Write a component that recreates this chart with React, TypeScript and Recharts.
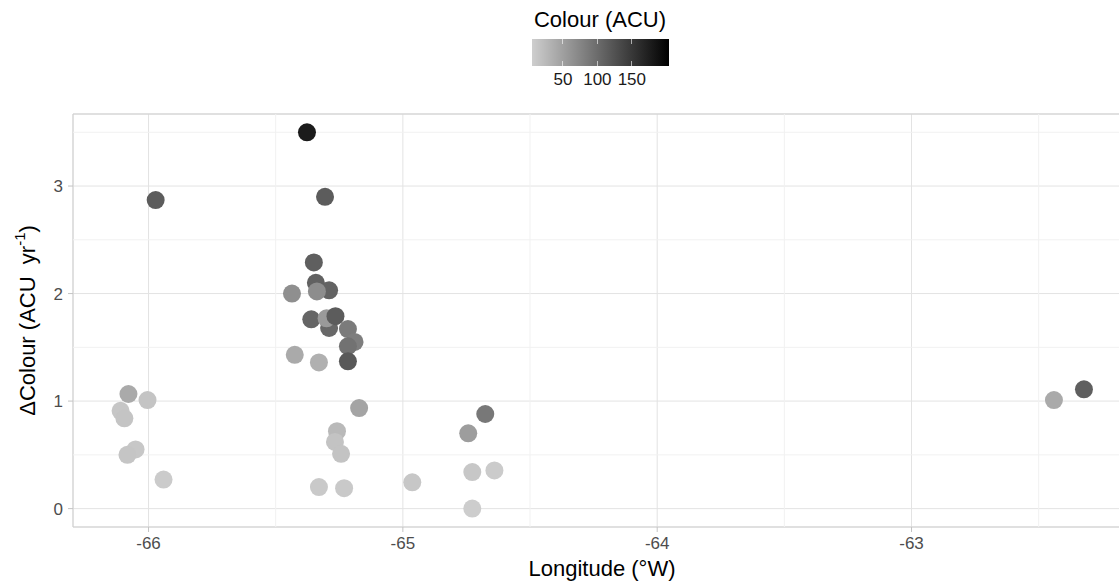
import React from "react";
import {
  ScatterChart,
  Scatter,
  XAxis,
  YAxis,
  CartesianGrid,
  ReferenceLine,
  ReferenceArea,
  Label,
} from "recharts";

// longitude (°W), rate of colour change (ACU/yr), colour (ACU)
const longitude = [
  -66.079, -66.004, -66.11, -66.095, -66.051, -66.083, -65.941, -65.972,
  -65.377, -65.306, -65.35, -65.342, -65.29, -65.338, -65.436, -65.36,
  -65.29, -65.3, -65.265, -65.216, -65.19, -65.216, -65.216, -65.425,
  -65.33, -65.172, -65.259, -65.267, -65.243, -65.33, -65.231, -64.963,
  -64.743, -64.676, -64.727, -64.64, -64.727, -62.44, -62.322,
];
const deltaColour = [
  1.066, 1.01, 0.91, 0.84, 0.55, 0.5, 0.27, 2.87,
  3.5, 2.9, 2.29, 2.1, 2.03, 2.02, 2.0, 1.76,
  1.68, 1.77, 1.79, 1.67, 1.55, 1.51, 1.37, 1.43,
  1.36, 0.935, 0.72, 0.62, 0.51, 0.2, 0.19, 0.245,
  0.7, 0.88, 0.34, 0.355, 0.0, 1.01, 1.11,
];
const colourAcu = [
  40, 15, 13, 15, 12, 14, 8, 115,
  178, 115, 112, 110, 108, 68, 66, 106,
  104, 55, 115, 85, 82, 94, 118, 40,
  34, 46, 25, 16, 16, 10, 10, 12,
  52, 88, 12, 8, 6, 40, 112,
];

const xTicks = [-66, -65, -64, -63];
const yTicks = [0, 1, 2, 3];
const xMinor = [-65.5, -64.5, -63.5, -62.5];
const yMinor = [0.5, 1.5, 2.5, 3.5];
const legendTicks = [50, 100, 150];

const X_DOMAIN: [number, number] = [-66.297, -62.137];
const Y_DOMAIN: [number, number] = [-0.171, 3.67];
const COL_MIN = 5;
const COL_MAX = 204;

const FONT = '"Liberation Sans", Arial, sans-serif';

const data = longitude.map((lon, i) => ({
  lon,
  dcol: deltaColour[i],
  colour: colourAcu[i],
}));

function greyFor(v: number) {
  const t = Math.min(1, Math.max(0, (v - COL_MIN) / (COL_MAX - COL_MIN)));
  const g = Math.round(206 * (1 - t));
  return `rgb(${g},${g},${g})`;
}

const Dot = (props: any) => {
  const { cx, cy, payload } = props;
  if (cx == null || cy == null) return null;
  return <circle cx={cx} cy={cy} r={9} fill={greyFor(payload.colour)} />;
};

const YTitle = (props: any) => {
  const vb = props.viewBox || { x: 0, y: 0, width: 0, height: 0 };
  const cx = vb.x + 27;
  const cy = vb.y + vb.height / 2;
  return (
    <text
      x={cx}
      y={cy}
      transform={`rotate(-90, ${cx}, ${cy})`}
      textAnchor="middle"
      dominantBaseline="central"
      fontSize={22}
      fontFamily={FONT}
      fill="#000"
    >
      ΔColour (ACU{"\u00a0\u00a0"}yr
      <tspan fontSize={15} dy={-8}>
        -1
      </tspan>
      <tspan dy={8}>)</tspan>
    </text>
  );
};

function ColourLegend() {
  const barLeft = 532;
  const barWidth = 137;
  const pos = (v: number) => ((v - COL_MIN) / (COL_MAX - COL_MIN)) * barWidth;
  return (
    <div
      style={{
        position: "absolute",
        left: 0,
        top: 0,
        width: 1119,
        height: 100,
        fontFamily: FONT,
        pointerEvents: "none",
      }}
    >
      <div
        style={{
          position: "absolute",
          left: 450,
          width: 300,
          top: 7,
          textAlign: "center",
          fontSize: 22,
          lineHeight: "26px",
          color: "#000",
        }}
      >
        Colour (ACU)
      </div>
      <div
        style={{
          position: "absolute",
          left: barLeft,
          top: 39,
          width: barWidth,
          height: 27,
          background: `linear-gradient(to right, ${greyFor(COL_MIN)}, ${greyFor(COL_MAX)})`,
        }}
      >
        {legendTicks.map((t) => (
          <React.Fragment key={t}>
            <div
              style={{
                position: "absolute",
                left: pos(t) - 0.5,
                top: 0,
                width: 1,
                height: 5,
                background: "rgba(255,255,255,0.6)",
              }}
            />
            <div
              style={{
                position: "absolute",
                left: pos(t) - 0.5,
                bottom: 0,
                width: 1,
                height: 5,
                background: "rgba(255,255,255,0.6)",
              }}
            />
          </React.Fragment>
        ))}
      </div>
      {legendTicks.map((t) => (
        <div
          key={t}
          style={{
            position: "absolute",
            left: barLeft + pos(t) - 30,
            width: 60,
            top: 70,
            textAlign: "center",
            fontSize: 17,
            lineHeight: "20px",
            color: "#1a1a1a",
          }}
        >
          {t}
        </div>
      ))}
    </div>
  );
}

export default function App() {
  return (
    <div
      style={{
        position: "absolute",
        left: 0,
        top: 0,
        width: 1119,
        height: 583,
        overflow: "hidden",
        background: "#fff",
      }}
    >
      <ScatterChart
        width={1131}
        height={583}
        margin={{ top: 114, right: 0, bottom: 0, left: 0 }}
        style={{ fontFamily: FONT }}
      >
        <CartesianGrid stroke="#e3e3e3" strokeWidth={1} />
        {xMinor.map((v) => (
          <ReferenceLine key={`vx${v}`} x={v} stroke="#f1f1f1" strokeWidth={1} />
        ))}
        {yMinor.map((v) => (
          <ReferenceLine key={`hy${v}`} y={v} stroke="#f1f1f1" strokeWidth={1} />
        ))}
        <ReferenceArea
          x1={X_DOMAIN[0]}
          x2={X_DOMAIN[1]}
          y1={Y_DOMAIN[0]}
          y2={Y_DOMAIN[1]}
          fill="none"
          fillOpacity={0}
          stroke="#cfcfcf"
          strokeWidth={1}
        />
        <XAxis
          type="number"
          dataKey="lon"
          domain={X_DOMAIN}
          allowDataOverflow
          ticks={xTicks}
          height={56}
          axisLine={false}
          tickLine={{ stroke: "#c4c4c4" }}
          tickSize={5}
          tickMargin={5}
          tick={{ fill: "#4d4d4d", fontSize: 17 }}
        >
          <Label
            value="Longitude (°W)"
            position="insideBottom"
            offset={7}
            fill="#000"
            fontSize={22}
          />
        </XAxis>
        <YAxis
          type="number"
          dataKey="dcol"
          domain={Y_DOMAIN}
          allowDataOverflow
          ticks={yTicks}
          width={73}
          axisLine={false}
          tickLine={{ stroke: "#c4c4c4" }}
          tickSize={5}
          tickMargin={5}
          tick={{ fill: "#4d4d4d", fontSize: 17 }}
        >
          <Label content={YTitle} />
        </YAxis>
        <Scatter data={data} shape={Dot} isAnimationActive={false} />
      </ScatterChart>
      <ColourLegend />
    </div>
  );
}
